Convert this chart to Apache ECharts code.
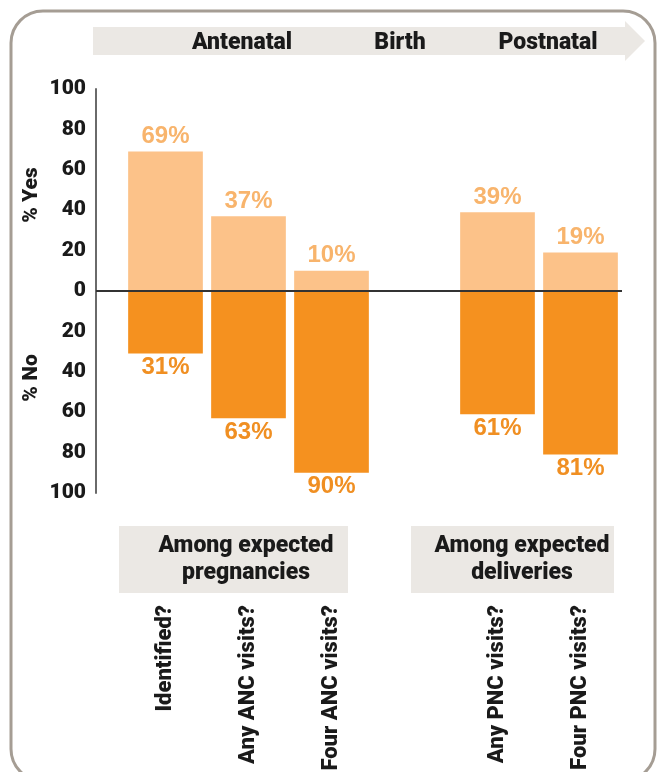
<!DOCTYPE html>
<html>
<head>
<meta charset="utf-8">
<script src="https://cdn.jsdelivr.net/npm/echarts@6/dist/echarts.min.js"></script>
<style>
  html, body { margin: 0; padding: 0; background: #ffffff; }
  #chart { width: 661px; height: 772px; }
</style>
</head>
<body>
<div id="chart"></div>
<script>
// ---- data ----
const categories = ['Identified?', 'Any ANC visits?', 'Four ANC visits?', '', 'Any PNC visits?', 'Four PNC visits?'];
const yesValues = [69, 37, 10, null, 39, 19];
const noValues = [31, 63, 90, null, 61, 81];
const yTicks = { min: -100, max: 100, interval: 20 };
const stageLabels = ['Antenatal', 'Birth', 'Postnatal'];
const groupLabels = ['Among expected\npregnancies', 'Among expected\ndeliveries'];
const sideLabels = ['% Yes', '% No'];

const NARROW = "Roboto, 'Liberation Sans Narrow', sans-serif";
const SANS = "'Liberation Sans', Arial, sans-serif";
const DARK = '#1a1a1a';
const PANEL = '#ebe8e4';
const HEAVY = '900';

const gridLeft = 124, gridRight = 39, gridTop = 89, gridBottom = 279;
const yAxisOffset = 28;

const chart = echarts.init(document.getElementById('chart'), null, { renderer: 'canvas' });

const option = {
  animation: false,
  backgroundColor: '#ffffff',
  grid: { left: gridLeft, right: gridRight, top: gridTop, bottom: gridBottom, containLabel: false, outerBoundsMode: 'none' },
  xAxis: {
    type: 'category',
    data: categories,
    position: 'bottom',
    axisLine: { show: false },
    axisTick: { show: false },
    axisLabel: {
      interval: 0,
      rotate: 90,
      margin: 112,
      color: DARK,
      fontFamily: NARROW,
      fontWeight: HEAVY,
      fontSize: 22
    },
    splitLine: { show: false }
  },
  yAxis: {
    type: 'value',
    min: yTicks.min,
    max: yTicks.max,
    interval: yTicks.interval,
    offset: yAxisOffset,
    axisLine: { show: true, lineStyle: { color: '#6a6a6a', width: 2 } },
    axisTick: { show: false },
    splitLine: { show: false },
    axisLabel: {
      margin: 10,
      color: DARK,
      fontFamily: NARROW,
      fontWeight: HEAVY,
      fontSize: 21,
      formatter: v => String(Math.abs(v))
    }
  },
  series: [
    {
      name: 'Yes',
      type: 'bar',
      stack: 'total',
      barCategoryGap: '10%',
      data: yesValues,
      itemStyle: { color: '#fcc289' },
      label: {
        show: true,
        position: 'top',
        distance: 3,
        color: '#f8b46c',
        fontFamily: SANS,
        fontWeight: 'bold',
        fontSize: 24,
        formatter: p => Math.abs(p.value) + '%'
      },
      markLine: {
        silent: true,
        symbol: 'none',
        label: { show: false },
        lineStyle: { color: '#333333', width: 2, type: 'solid' },
        data: [{ yAxis: 0 }]
      }
    },
    {
      name: 'No',
      type: 'bar',
      stack: 'total',
      barCategoryGap: '10%',
      data: noValues.map(v => v == null ? null : -v),
      itemStyle: { color: '#f5911f' },
      label: {
        show: true,
        position: 'bottom',
        distance: 2,
        color: '#f08f22',
        fontFamily: SANS,
        fontWeight: 'bold',
        fontSize: 24,
        formatter: p => Math.abs(p.value) + '%'
      }
    }
  ],
  graphic: [
    // outer rounded frame
    {
      type: 'rect', z: -10, silent: true,
      shape: { x: 11, y: 11, width: 644, height: 770, r: 32 },
      style: { fill: 'none', stroke: '#a59d94', lineWidth: 3 }
    },
    // timeline banner
    {
      type: 'rect', z: -5, silent: true,
      shape: { x: 93, y: 27, width: 532, height: 28 },
      style: { fill: PANEL }
    },
    {
      type: 'polygon', z: -5, silent: true,
      shape: { points: [[625, 21], [645, 41], [625, 61]] },
      style: { fill: PANEL }
    },
    { type: 'text', silent: true, x: 242, y: 43, style: { text: stageLabels[0], fill: DARK, font: HEAVY + " 23px " + NARROW, align: 'center', verticalAlign: 'middle' } },
    { type: 'text', silent: true, x: 400, y: 43, style: { text: stageLabels[1], fill: DARK, font: HEAVY + " 23px " + NARROW, align: 'center', verticalAlign: 'middle' } },
    { type: 'text', silent: true, x: 548, y: 43, style: { text: stageLabels[2], fill: DARK, font: HEAVY + " 23px " + NARROW, align: 'center', verticalAlign: 'middle' } },
    // group boxes
    {
      type: 'rect', z: -5, silent: true,
      shape: { x: 119, y: 526, width: 229, height: 67 },
      style: { fill: PANEL }
    },
    {
      type: 'rect', z: -5, silent: true,
      shape: { x: 411, y: 526, width: 203, height: 67 },
      style: { fill: PANEL }
    },
    { type: 'text', silent: true, x: 246, y: 560, style: { text: groupLabels[0], fill: DARK, font: HEAVY + " 23px " + NARROW, lineHeight: 27, align: 'center', verticalAlign: 'middle' } },
    { type: 'text', silent: true, x: 522, y: 560, style: { text: groupLabels[1], fill: DARK, font: HEAVY + " 23px " + NARROW, lineHeight: 27, align: 'center', verticalAlign: 'middle' } },
    // side labels
    { type: 'text', silent: true, x: 32, y: 195, rotation: Math.PI / 2, style: { text: sideLabels[0], fill: DARK, font: HEAVY + " 21px " + NARROW, align: 'center', verticalAlign: 'middle' } },
    { type: 'text', silent: true, x: 32, y: 378, rotation: Math.PI / 2, style: { text: sideLabels[1], fill: DARK, font: HEAVY + " 21px " + NARROW, align: 'center', verticalAlign: 'middle' } }
  ]
};

chart.setOption(option);

// extend the zero line from the offset y axis to the plot area (position from the axis scale)
const zeroY = chart.convertToPixel({ yAxisIndex: 0 }, 0);
chart.setOption({
  graphic: option.graphic.concat([{
    type: 'line', silent: true, z: 5,
    shape: { x1: gridLeft - yAxisOffset, y1: zeroY, x2: gridLeft, y2: zeroY },
    style: { stroke: '#333333', lineWidth: 2 }
  }])
});
</script>
</body>
</html>
